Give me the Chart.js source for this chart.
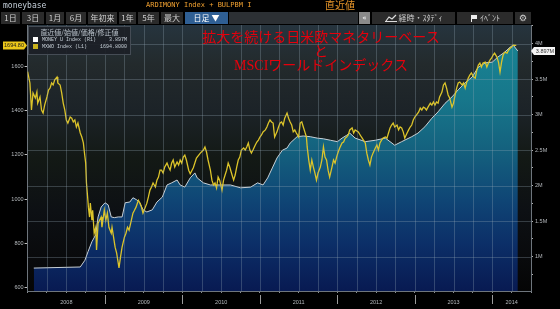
<!DOCTYPE html>
<html>
<head>
<meta charset="utf-8">
<script src="https://cdn.jsdelivr.net/npm/chart.js@4.4.1/dist/chart.umd.min.js"></script>
<style>
  body { margin: 0; background: #000; width: 560px; height: 309px; overflow: hidden; position: relative; }
  #chart { position: absolute; left: 0; top: 0; }
  .abs { position: absolute; white-space: nowrap; }
  #moneybase { left: 3px; top: 0; font: 8px "DejaVu Sans Mono", monospace; line-height: 11px; color: #c4ced8; }
  #ticker { left: 146px; top: 0; font: 7px "DejaVu Sans Mono", monospace; line-height: 11px; color: #f0a030; }
  #lastTitle { left: 325px; top: -1px; font: 10px "Noto Sans CJK JP", sans-serif; line-height: 12px; color: #e8962a; }
  .btn { top: 12px; height: 12px; background: #2b2b2b; color: #cfcfcf; font: 8px "Noto Sans CJK JP", sans-serif; line-height: 12px; text-align: center; }
  .btn.sel { background: #2f5f94; color: #fff; }
  #bar { left: 229px; top: 12px; width: 129px; height: 12px; background: #2c3034; }
  #collapse { left: 359px; top: 12px; width: 11px; height: 12px; background: #8a8a8a; color: #fff; font: 7px "DejaVu Sans", sans-serif; line-height: 12px; text-align: center; }
  #legendBox { left: 28px; top: 26px; width: 101px; height: 27px; background: rgba(28,32,38,0.92); border: 1px solid #454c55; color: #c8d0d8; }
  #legendBox .lh { position: absolute; left: 0; width: 101px; top: 1px; text-align: center; font: 7px "Noto Sans CJK JP", sans-serif; line-height: 9px; color: #b8c0c8; }
  #legendBox .lr { position: absolute; left: 4px; width: 94px; font: 5px "Liberation Mono", monospace; line-height: 7px; }
  #legendBox .sw { display: inline-block; width: 5px; height: 5px; margin-right: 4px; vertical-align: -1px; }
  #legendBox .v { position: absolute; right: 0; }
  #title { left: 170px; top: 31px; width: 302px; text-align: center; color: #e6000c; font: 14px "Liberation Serif", "Noto Sans CJK JP", serif; line-height: 14px; }
</style>
</head>
<body>
<canvas id="chart" width="560" height="309"></canvas>

<div class="abs" id="moneybase">moneybase</div>
<div class="abs" id="ticker">ARDIMONY Index + BULPBM I</div>
<div class="abs" id="lastTitle">直近値</div>

<div class="abs btn" style="left:1px;width:19px">1日</div>
<div class="abs btn" style="left:22px;width:22px">3日</div>
<div class="abs btn" style="left:46px;width:18px">1月</div>
<div class="abs btn" style="left:66px;width:20px">6月</div>
<div class="abs btn" style="left:88px;width:29px">年初来</div>
<div class="abs btn" style="left:119px;width:17px">1年</div>
<div class="abs btn" style="left:138px;width:21px">5年</div>
<div class="abs btn" style="left:161px;width:22px">最大</div>
<div class="abs btn sel" style="left:185px;width:43px">日足 ▼</div>
<div class="abs" id="bar"></div>
<div class="abs" id="collapse">«</div>
<div class="abs btn" style="left:372px;width:83px">
  <svg width="12" height="8" style="vertical-align:-1px"><polyline points="1,7 4,3 7,5 11,1" fill="none" stroke="#ddd" stroke-width="1.2"/><line x1="0" y1="7.5" x2="12" y2="7.5" stroke="#ddd"/></svg>
  経時・ｽﾀﾃﾞｨ</div>
<div class="abs btn" style="left:457px;width:56px">
  <svg width="8" height="8" style="vertical-align:-1px"><rect x="1" y="1" width="6" height="4" fill="#eee"/><line x1="1.5" y1="1" x2="1.5" y2="8" stroke="#eee"/></svg>
  ｲﾍﾞﾝﾄ</div>
<div class="abs btn" style="left:515px;width:16px;font-family:'DejaVu Sans';font-size:9px">⚙</div>

<div class="abs" id="legendBox">
  <div class="lh">直近値/始値/価格/修正値</div>
  <div class="lr" style="top:10px"><span class="sw" style="background:#fff"></span>MONEY U Index (R1)<span class="v" id="baseLast"></span></div>
  <div class="lr" style="top:17px"><span class="sw" style="background:#c9b11c"></span>MXWO Index (L1)<span class="v" id="mxwoLast"></span></div>
</div>

<div class="abs" id="title">拡大を続ける日米欧マネタリーベース<br>と<br>MSCIワールドインデックス</div>

<script>
// monetary base (right axis, millions) — dates as decimal years
const baseDates = [
  2008.08, 2008.68, 2008.74, 2008.78, 2008.83, 2008.88, 2008.91, 2008.95, 2009.00, 2009.04,
  2009.08, 2009.12, 2009.17, 2009.22, 2009.26, 2009.32, 2009.36, 2009.41, 2009.45, 2009.49,
  2009.54, 2009.61, 2009.67, 2009.74, 2009.80, 2009.86, 2009.93, 2009.97, 2010.03, 2010.10,
  2010.16, 2010.19, 2010.27, 2010.36, 2010.49, 2010.62, 2010.75, 2010.88, 2010.97, 2011.04,
  2011.10, 2011.16, 2011.22, 2011.29, 2011.35, 2011.39, 2011.48, 2011.56, 2011.65, 2011.74,
  2011.82, 2011.91, 2012.00, 2012.06, 2012.12, 2012.16, 2012.23, 2012.36, 2012.49, 2012.62,
  2012.74, 2012.83, 2012.96, 2013.04, 2013.13, 2013.22, 2013.30, 2013.39, 2013.48, 2013.56,
  2013.65, 2013.74, 2013.82, 2013.91, 2014.00, 2014.07, 2014.16, 2014.23, 2014.27, 2014.33
];
const baseValues = [
  0.84, 0.855, 0.95, 1.07, 1.21, 1.31, 1.56, 1.70, 1.76, 1.73,
  1.56, 1.55, 1.56, 1.56, 1.76, 1.77, 1.83, 1.80, 1.76, 1.66,
  1.63, 1.66, 1.77, 1.84, 2.01, 2.04, 2.08, 2.01, 1.98, 2.11,
  2.18, 2.11, 2.04, 2.01, 2.01, 2.01, 1.97, 1.98, 2.04, 2.01,
  2.11, 2.25, 2.39, 2.50, 2.53, 2.60, 2.69, 2.70, 2.69, 2.67,
  2.66, 2.64, 2.62, 2.67, 2.71, 2.74, 2.67, 2.62, 2.64, 2.67,
  2.57, 2.62, 2.69, 2.74, 2.83, 2.95, 3.04, 3.16, 3.25, 3.35,
  3.45, 3.53, 3.67, 3.73, 3.74, 3.81, 3.88, 3.95, 3.98, 3.897
];

// MSCI World (left axis)
const mxwoDates = [
  2008.00, 2008.03, 2008.05, 2008.07, 2008.10, 2008.12, 2008.13, 2008.16, 2008.18, 2008.20,
  2008.22, 2008.25, 2008.27, 2008.29, 2008.31, 2008.33, 2008.35, 2008.38, 2008.39, 2008.42,
  2008.44, 2008.46, 2008.48, 2008.50, 2008.52, 2008.55, 2008.57, 2008.59, 2008.61, 2008.63,
  2008.65, 2008.68, 2008.70, 2008.72, 2008.73, 2008.75, 2008.76, 2008.775, 2008.785, 2008.80,
  2008.81, 2008.83, 2008.84, 2008.86, 2008.88, 2008.89, 2008.91, 2008.95, 2008.96, 2008.99,
  2009.01, 2009.03, 2009.05, 2009.08, 2009.09, 2009.11, 2009.13, 2009.15, 2009.17, 2009.18,
  2009.20, 2009.22, 2009.25, 2009.27, 2009.29, 2009.31, 2009.34, 2009.36, 2009.38, 2009.40,
  2009.43, 2009.45, 2009.47, 2009.49, 2009.52, 2009.54, 2009.56, 2009.58, 2009.60, 2009.62,
  2009.65, 2009.67, 2009.69, 2009.71, 2009.73, 2009.75, 2009.77, 2009.80, 2009.82, 2009.84,
  2009.86, 2009.88, 2009.90, 2009.93, 2009.95, 2009.97, 2009.99, 2010.01, 2010.03, 2010.05,
  2010.08, 2010.10, 2010.14, 2010.18, 2010.23, 2010.27, 2010.29, 2010.31, 2010.33, 2010.36,
  2010.38, 2010.40, 2010.42, 2010.44, 2010.46, 2010.48, 2010.51, 2010.53, 2010.55, 2010.57,
  2010.59, 2010.61, 2010.64, 2010.66, 2010.68, 2010.70, 2010.72, 2010.74, 2010.76, 2010.79,
  2010.81, 2010.83, 2010.85, 2010.87, 2010.89, 2010.91, 2010.94, 2010.96, 2010.98, 2011.00,
  2011.02, 2011.04, 2011.07, 2011.09, 2011.11, 2011.13, 2011.15, 2011.17, 2011.19, 2011.22,
  2011.24, 2011.26, 2011.28, 2011.30, 2011.32, 2011.35, 2011.37, 2011.39, 2011.41, 2011.43,
  2011.45, 2011.47, 2011.50, 2011.52, 2011.54, 2011.56, 2011.58, 2011.60, 2011.61, 2011.63,
  2011.65, 2011.67, 2011.69, 2011.71, 2011.73, 2011.75, 2011.78, 2011.80, 2011.82, 2011.84,
  2011.86, 2011.88, 2011.90, 2011.93, 2011.95, 2011.97, 2011.99, 2012.01, 2012.03, 2012.06,
  2012.08, 2012.10, 2012.12, 2012.14, 2012.16, 2012.19, 2012.21, 2012.23, 2012.27, 2012.31,
  2012.36, 2012.38, 2012.40, 2012.42, 2012.44, 2012.46, 2012.49, 2012.51, 2012.53, 2012.55,
  2012.57, 2012.59, 2012.62, 2012.64, 2012.66, 2012.68, 2012.70, 2012.72, 2012.74, 2012.77,
  2012.79, 2012.81, 2012.83, 2012.85, 2012.87, 2012.90, 2012.92, 2012.94, 2012.96, 2012.98,
  2013.00, 2013.02, 2013.05, 2013.07, 2013.09, 2013.11, 2013.13, 2013.15, 2013.17, 2013.20,
  2013.22, 2013.24, 2013.26, 2013.28, 2013.30, 2013.32, 2013.35, 2013.37, 2013.39, 2013.41,
  2013.43, 2013.45, 2013.48, 2013.50, 2013.52, 2013.54, 2013.56, 2013.58, 2013.61, 2013.63,
  2013.65, 2013.67, 2013.69, 2013.71, 2013.73, 2013.76, 2013.78, 2013.80, 2013.82, 2013.84,
  2013.86, 2013.88, 2013.91, 2013.93, 2013.95, 2013.97, 2013.99, 2014.01, 2014.03, 2014.06,
  2014.08, 2014.10, 2014.12, 2014.14, 2014.16, 2014.19, 2014.21, 2014.23, 2014.25, 2014.27,
  2014.31
];
const mxwoValues = [
  1576, 1525, 1403, 1480, 1457, 1484, 1434, 1462, 1403, 1389,
  1425, 1462, 1493, 1502, 1525, 1516, 1539, 1552, 1525, 1516,
  1480, 1434, 1403, 1358, 1344, 1371, 1366, 1349, 1358, 1326,
  1344, 1299, 1281, 1254, 1222, 1163, 1073, 1010, 964, 919,
  982, 905, 950, 846, 873, 770, 891, 919, 873, 950,
  905, 937, 873, 846, 873, 828, 783, 756, 712, 689,
  739, 783, 828, 846, 873, 860, 905, 937, 950, 964,
  995, 982, 964, 937, 964, 982, 1010, 1041, 1055, 1073,
  1055, 1086, 1100, 1131, 1131, 1118, 1145, 1163, 1145, 1131,
  1163, 1177, 1145, 1168, 1154, 1177, 1163, 1190, 1199, 1177,
  1131, 1115, 1142, 1186, 1208, 1222, 1236, 1213, 1177, 1131,
  1086, 1064, 1073, 1050, 1100, 1086, 1041, 1086, 1109, 1131,
  1163, 1145, 1109, 1086, 1109, 1145, 1177, 1190, 1222, 1231,
  1222, 1236, 1254, 1222, 1208, 1222, 1245, 1258, 1267, 1281,
  1290, 1304, 1313, 1326, 1344, 1358, 1349, 1344, 1281, 1304,
  1326, 1344, 1349, 1335, 1366, 1389, 1366, 1349, 1335, 1304,
  1313, 1299, 1281, 1344, 1349, 1326, 1304, 1281, 1236, 1177,
  1131, 1177, 1145, 1118, 1086, 1118, 1145, 1177, 1236, 1190,
  1177, 1131, 1100, 1145, 1177, 1163, 1190, 1213, 1231, 1254,
  1258, 1275, 1281, 1290, 1313, 1322, 1299, 1313, 1304, 1281,
  1254, 1208, 1177, 1154, 1190, 1208, 1231, 1245, 1222, 1254,
  1267, 1276, 1281, 1276, 1299, 1322, 1335, 1344, 1326, 1335,
  1313, 1326, 1322, 1304, 1276, 1299, 1313, 1326, 1335, 1358,
  1371, 1380, 1394, 1412, 1403, 1416, 1412, 1403, 1416, 1434,
  1425, 1439, 1425, 1439, 1434, 1462, 1484, 1516, 1525, 1502,
  1471, 1457, 1416, 1434, 1471, 1502, 1525, 1529, 1516, 1525,
  1502, 1529, 1547, 1561, 1570, 1552, 1547, 1583, 1606, 1615,
  1597, 1615, 1619, 1597, 1615, 1628, 1637, 1651, 1660, 1642,
  1619, 1574, 1619, 1651, 1664, 1660, 1673, 1682, 1687, 1696,
  1694.8
];

const leftTicks = [600, 800, 1000, 1200, 1400, 1600];
const rightTicks = [0.75, 1, 1.25, 1.5, 1.75, 2, 2.25, 2.5, 2.75, 3, 3.25, 3.5, 3.75, 4, 4.25];
const rightGrid = [1, 1.5, 2, 2.5, 3, 3.5, 4];
const xTicks = [];
for (let q = 0; q <= 26; q++) xTicks.push(2008 + q * 0.25);
const yearLabelAt = { 2008.5: '2008', 2009.5: '2009', 2010.5: '2010', 2011.5: '2011', 2012.5: '2012', 2013.5: '2013', 2014.25: '2014' };
const yearMarks = [2009, 2010, 2011, 2012, 2013, 2014];

const gridColor = 'rgba(150,168,182,0.3)';
const tickText = '#b4b8bc';

document.getElementById('baseLast').textContent = baseValues[baseValues.length - 1].toFixed(3) + 'M';
document.getElementById('mxwoLast').textContent = mxwoValues[mxwoValues.length - 1].toFixed(4);

Chart.defaults.font.family = 'Liberation Sans';
Chart.defaults.font.size = 5.5;

const backdrop = {
  id: 'backdrop',
  beforeDraw(chart) {
    const { ctx, chartArea: a } = chart;
    ctx.save();
    ctx.fillStyle = '#000';
    ctx.fillRect(0, 0, chart.width, chart.height);
    const g = ctx.createLinearGradient(0, a.top, 0, a.bottom);
    g.addColorStop(0, '#26343e');
    g.addColorStop(0.15, '#232a2c');
    g.addColorStop(0.32, '#1c2328');
    g.addColorStop(0.5, '#131915');
    g.addColorStop(0.7, '#0d1014');
    g.addColorStop(0.88, '#090a0c');
    g.addColorStop(1, '#050505');
    ctx.fillStyle = g;
    ctx.fillRect(a.left, a.top, a.right - a.left, a.bottom - a.top);
    ctx.restore();
  }
};

// thin grid over the filled area, placed from the scales
const overGrid = {
  id: 'overGrid',
  afterDatasetsDraw(chart) {
    const { ctx, scales, chartArea: a } = chart;
    ctx.save();
    ctx.strokeStyle = gridColor;
    ctx.lineWidth = 1;
    xTicks.forEach(v => {
      const x = Math.round(scales.x.getPixelForValue(v)) + 0.5;
      if (x <= a.left + 1 || x >= a.right - 1) return;
      ctx.beginPath();
      ctx.moveTo(x, a.top);
      ctx.lineTo(x, a.bottom);
      ctx.stroke();
    });
    rightGrid.forEach(v => {
      const y = Math.round(scales.yR.getPixelForValue(v)) + 0.5;
      ctx.beginPath();
      ctx.moveTo(a.left, y);
      ctx.lineTo(a.right, y);
      ctx.stroke();
    });
    ctx.restore();
  }
};

const markers = {
  id: 'markers',
  afterDraw(chart) {
    const { ctx, scales, chartArea: a } = chart;
    ctx.save();
    // year separators under the time axis
    ctx.strokeStyle = '#9a9a9a';
    ctx.lineWidth = 1;
    yearMarks.forEach(yr => {
      const x = Math.round(scales.x.getPixelForValue(yr)) + 0.5;
      ctx.beginPath();
      ctx.moveTo(x, a.bottom + 4);
      ctx.lineTo(x, a.bottom + 13);
      ctx.stroke();
    });

    // last value tags
    const lastM = mxwoValues[mxwoValues.length - 1];
    const yl = scales.yL.getPixelForValue(lastM);
    ctx.fillStyle = '#ecc81a';
    ctx.beginPath();
    ctx.moveTo(3, yl - 4);
    ctx.lineTo(24, yl - 4);
    ctx.lineTo(27, yl);
    ctx.lineTo(24, yl + 4);
    ctx.lineTo(3, yl + 4);
    ctx.closePath();
    ctx.fill();
    ctx.fillStyle = '#1a1a1a';
    ctx.font = '5.5px "Liberation Sans"';
    ctx.textAlign = 'center';
    ctx.textBaseline = 'middle';
    ctx.fillText(lastM.toFixed(2), 14, yl + 0.5);

    const lastB = baseValues[baseValues.length - 1];
    const yr = scales.yR.getPixelForValue(lastB);
    ctx.fillStyle = '#f4f4f4';
    ctx.beginPath();
    ctx.moveTo(531, yr);
    ctx.lineTo(534, yr - 4);
    ctx.lineTo(555, yr - 4);
    ctx.lineTo(555, yr + 4);
    ctx.lineTo(534, yr + 4);
    ctx.closePath();
    ctx.fill();
    ctx.fillStyle = '#333';
    ctx.fillText(lastB.toFixed(3) + 'M', 545, yr + 0.5);
    ctx.restore();
  }
};

function areaFill(c) {
  const a = c.chart.chartArea;
  if (!a) return 'rgba(0,0,0,0)';
  const g = c.chart.ctx.createLinearGradient(0, a.top, 0, a.bottom);
  g.addColorStop(0.07, '#188393');
  g.addColorStop(0.28, '#17778b');
  g.addColorStop(0.47, '#14617e');
  g.addColorStop(0.66, '#0f4575');
  g.addColorStop(0.82, '#0c2f68');
  g.addColorStop(1, '#081a52');
  return g;
}

new Chart(document.getElementById('chart').getContext('2d'), {
  type: 'line',
  data: {
    datasets: [
      {
        label: 'MXWO Index (L1)',
        data: mxwoDates.map((d, i) => ({ x: d, y: mxwoValues[i] })),
        yAxisID: 'yL',
        borderColor: '#dcc42a',
        borderWidth: 1.3,
        pointRadius: 0,
        fill: false
      },
      {
        label: 'MONEY U Index (R1)',
        data: baseDates.map((d, i) => ({ x: d, y: baseValues[i] })),
        yAxisID: 'yR',
        borderColor: '#c8d0d6',
        borderWidth: 1,
        pointRadius: 0,
        fill: 'start',
        backgroundColor: areaFill
      }
    ]
  },
  options: {
    responsive: false,
    animation: false,
    devicePixelRatio: 1,
    layout: { padding: { top: 25, left: 0, right: 0, bottom: 0 } },
    plugins: { legend: { display: false }, tooltip: { enabled: false } },
    scales: {
      x: {
        type: 'linear',
        min: 2008,
        max: 2014.5,
        afterFit: (s) => { s.height = 18; },
        afterBuildTicks: (s) => {
          const vals = xTicks.concat([2014.25]).sort((p, q) => p - q);
          s.ticks = vals.filter((v, i) => vals.indexOf(v) === i).map(v => ({ value: v }));
        },
        ticks: {
          autoSkip: false,
          maxRotation: 0,
          padding: 6,
          color: tickText,
          callback: (v) => yearLabelAt[v] || ''
        },
        grid: { drawOnChartArea: false, tickColor: '#8a8f94', tickLength: 2 },
        border: { color: '#6e757c' }
      },
      yL: {
        position: 'left',
        min: 585,
        max: 1787,
        afterFit: (s) => { s.width = 27.6; },
        afterBuildTicks: (s) => { s.ticks = leftTicks.map(v => ({ value: v })); },
        ticks: { color: tickText, padding: 1, callback: (v) => String(v) },
        grid: { drawOnChartArea: false, tickColor: '#c0c0c0', tickLength: 3 },
        border: { color: '#6e757c' }
      },
      yR: {
        position: 'right',
        min: 0.517,
        max: 4.263,
        afterFit: (s) => { s.width = 29; },
        afterBuildTicks: (s) => { s.ticks = rightTicks.map(v => ({ value: v })); },
        ticks: {
          color: tickText,
          padding: 2,
          callback: (v) => (v % 0.5 === 0 ? v + 'M' : '')
        },
        grid: { drawOnChartArea: false, tickColor: '#b0b0b0', tickLength: 2 },
        border: { color: '#6e757c' }
      }
    }
  },
  plugins: [backdrop, overGrid, markers]
});
</script>
</body>
</html>
